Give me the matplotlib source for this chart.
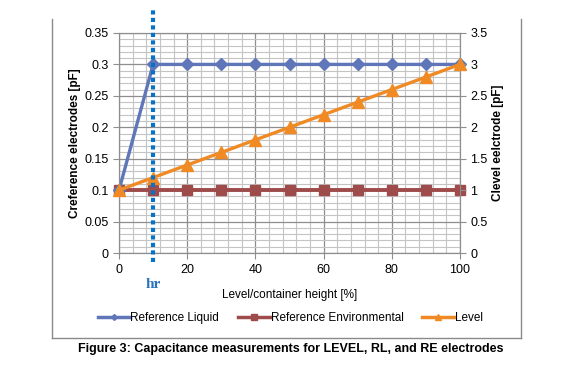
"""Capacitance measurements for LEVEL, RL and RE electrodes."""

import matplotlib.pyplot as plt
from matplotlib.lines import Line2D
from matplotlib.ticker import MultipleLocator

plt.rcParams["font.family"] = ["Liberation Sans", "DejaVu Sans"]

level_pct = [0, 10, 20, 30, 40, 50, 60, 70, 80, 90, 100]
ref_liquid = [0.1, 0.3, 0.3, 0.3, 0.3, 0.3, 0.3, 0.3, 0.3, 0.3, 0.3]
ref_env = [0.1, 0.1, 0.1, 0.1, 0.1, 0.1, 0.1, 0.1, 0.1, 0.1, 0.1]
level = [1.0, 1.2, 1.4, 1.6, 1.8, 2.0, 2.2, 2.4, 2.6, 2.8, 3.0]
hr = 10

left_ticks = [0, 0.05, 0.1, 0.15, 0.2, 0.25, 0.3, 0.35]
left_labels = ["0", "0.05", "0.1", "0.15", "0.2", "0.25", "0.3", "0.35"]
right_ticks = [0, 0.5, 1, 1.5, 2, 2.5, 3, 3.5]
right_labels = ["0", "0.5", "1", "1.5", "2", "2.5", "3", "3.5"]

c_liq = "#5F77B8"
c_env = "#9E4B4B"
c_lev = "#F08A24"
grid_major = "#8E8E8E"
grid_minor = "#C4C4C4"

fig = plt.figure(figsize=(5.75, 3.74), dpi=100)
ax = fig.add_axes([0.207, 0.3235, 0.593, 0.5883])
ax2 = ax.twinx()

ax.set_xlim(0, 100)
ax.set_ylim(0, 0.35)
ax2.set_ylim(0, 3.5)
ax.xaxis.set_major_locator(MultipleLocator(20))
ax.xaxis.set_minor_locator(MultipleLocator(4))
ax.set_yticks(left_ticks)
ax.set_yticklabels(left_labels)
ax.yaxis.set_minor_locator(MultipleLocator(0.01))
ax2.set_yticks(right_ticks)
ax2.set_yticklabels(right_labels)

ax.grid(which="major", color=grid_major, lw=0.9)
ax.grid(which="minor", color=grid_minor, lw=0.8)
ax.set_axisbelow(True)
for a in (ax, ax2):
    for s in a.spines.values():
        s.set_color(grid_major)
    a.tick_params(which="major", length=4, color=grid_major, labelsize=9)
    a.tick_params(which="minor", length=0)
ax.tick_params(axis="x", pad=4)

ax.plot(level_pct, ref_liquid, color=c_liq, lw=2.4, marker="D", ms=6, clip_on=False, zorder=4)
ax.plot(level_pct, ref_env, color=c_env, lw=2.8, marker="s", ms=7.5, clip_on=False, zorder=3)
ax2.plot(level_pct, level, color=c_lev, lw=2.4, marker="^", ms=8, clip_on=False, zorder=4)

# dotted marker for hr
ax2.plot([hr, hr], [-0.14, 3.87], color="#0A72C4", lw=3, ls=(0, (1, 0.8)), clip_on=False, zorder=6)
ax.text(hr, -0.05, "hr", color="#2A74BE", fontsize=11, fontweight="bold",
        family=["Liberation Serif", "DejaVu Serif"], ha="center", va="center")

ax.set_xlabel("Level/container height [%]", fontsize=8.5)
ax.xaxis.set_label_coords(0.5, -0.165)
ax.set_ylabel("Creference electrodes [pF]", fontsize=8.5, fontweight="bold")
ax.yaxis.set_label_coords(-0.111, 0.5)
ax2.set_ylabel("Clevel eelctrode [pF]", fontsize=8.5, fontweight="bold")
ax2.yaxis.set_label_coords(1.094, 0.5)

handles = [
    Line2D([], [], color=c_liq, lw=2.5, marker="D", ms=3),
    Line2D([], [], color=c_env, lw=2.5, marker="s", ms=5),
    Line2D([], [], color=c_lev, lw=2.5, marker="^", ms=4),
]
fig.legend(handles, ["Reference Liquid", "Reference Environmental", "Level"],
           loc="center", bbox_to_anchor=(0.505, 0.149), ncol=3, frameon=False,
           fontsize=8.5, handlelength=2.7, handletextpad=0.05, columnspacing=1.6)

# outer chart frame
frame = dict(color="#8A8A8A", lw=1, transform=fig.transFigure)
fig.add_artist(Line2D([52 / 575, 52 / 575], [1 - 19 / 374, 1 - 338 / 374], **frame))
fig.add_artist(Line2D([521 / 575, 521 / 575], [1 - 19 / 374, 1 - 338 / 374], **frame))
fig.add_artist(Line2D([52 / 575, 521 / 575], [1 - 338 / 374, 1 - 338 / 374], **frame))

fig.text(0.505, 1 - 349 / 374, "Figure 3: Capacitance measurements for LEVEL, RL, and RE electrodes",
         ha="center", va="center", fontsize=9, fontweight="bold")

fig.savefig("out.png", dpi=100)
plt.close(fig)
